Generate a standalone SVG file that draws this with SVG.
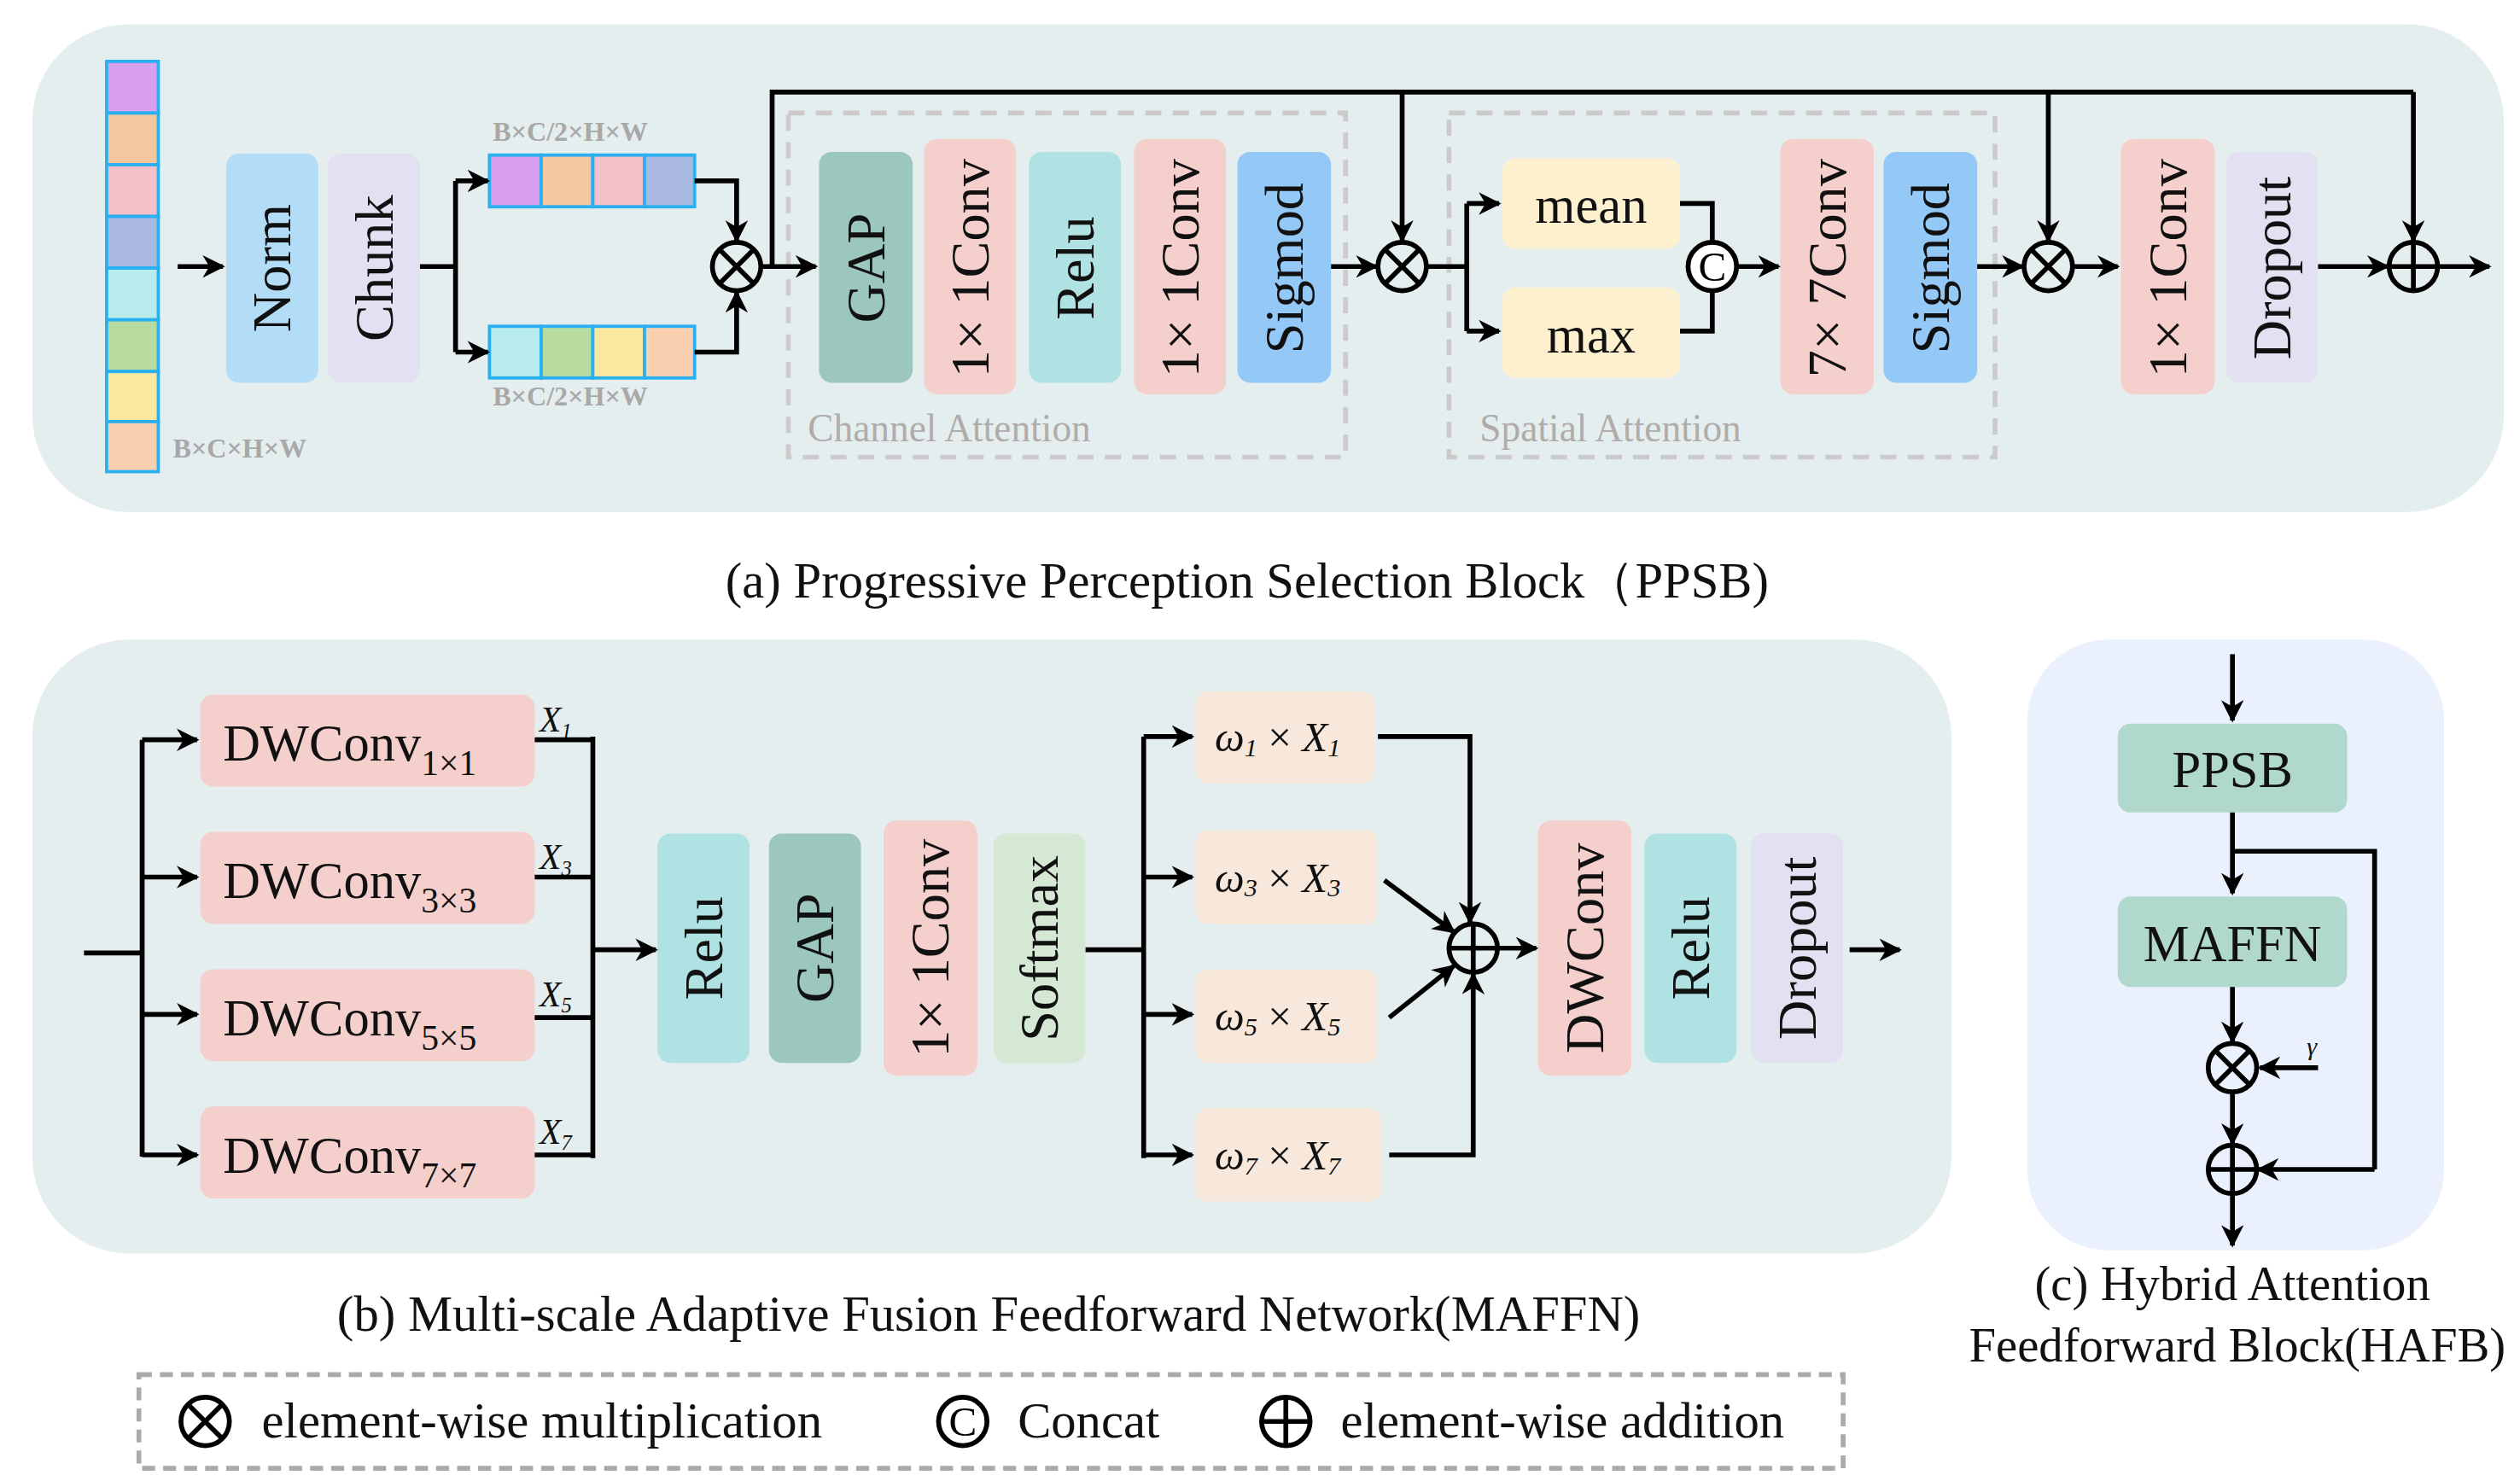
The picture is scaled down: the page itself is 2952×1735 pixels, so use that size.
<svg xmlns="http://www.w3.org/2000/svg" xmlns:xlink="http://www.w3.org/1999/xlink" width="2952" height="1735" viewBox="0 0 2952 1735">
<style>
.t{font-family:"Liberation Serif","Times New Roman",serif;fill:#111}
.v{font-family:"Liberation Serif","Times New Roman",serif;font-size:34px;fill:#111;text-anchor:middle;dominant-baseline:central}
.dim{font-family:"Liberation Serif",serif;font-size:17px;font-weight:bold;fill:#a8a8a8}
.gl{font-family:"Liberation Serif",serif;font-size:24px;fill:#b0acaa}
.c{fill:none;stroke:#000;stroke-width:3}
.ca{fill:none;stroke:#000;stroke-width:3;marker-end:url(#ah)}
.cell{stroke:#2ab0f0;stroke-width:2}
</style>
<defs>
<marker id="ah" viewBox="0 0 10 10" refX="9" refY="5" markerWidth="14" markerHeight="14" markerUnits="userSpaceOnUse" orient="auto">
<path d="M0,0 L10,5 L0,10 L3,5 z" fill="#000"/>
</marker>
<g id="mul"><circle r="15" fill="none" stroke="#000" stroke-width="3"/><path d="M-10.6,-10.6 L10.6,10.6 M10.6,-10.6 L-10.6,10.6" stroke="#000" stroke-width="3"/></g>
<g id="add"><circle r="15" fill="none" stroke="#000" stroke-width="3"/><path d="M-15,0 H15 M0,-15 V15" stroke="#000" stroke-width="3"/></g>
<g id="cat"><circle r="15" fill="#fff" stroke="#000" stroke-width="3"/><text y="9" text-anchor="middle" font-family="Liberation Serif,serif" font-size="26" fill="#000">C</text></g>
</defs>
<rect width="2952" height="1735" fill="#fff"/>
<g transform="scale(1.8923)">
<g id="panelA"><rect x="20" y="15" width="1530" height="302" rx="60" fill="#e5eeef"/></g>
<g id="panelB"><rect x="20" y="396" width="1188" height="380" rx="60" fill="#e5eeef"/></g>
<g id="panelC"><rect x="1255" y="396" width="258" height="378" rx="50" fill="#eaf1fd"/></g>

<g id="input">
<rect class="cell" x="66" y="38" width="32" height="32" fill="#d9a0f0"/>
<rect class="cell" x="66" y="70" width="32" height="32" fill="#f5c7a0"/>
<rect class="cell" x="66" y="102" width="32" height="32" fill="#f5c0c8"/>
<rect class="cell" x="66" y="134" width="32" height="32" fill="#a8b8e0"/>
<rect class="cell" x="66" y="166" width="32" height="32" fill="#b8ecec"/>
<rect class="cell" x="66" y="198" width="32" height="32" fill="#b8dca0"/>
<rect class="cell" x="66" y="230" width="32" height="31" fill="#fbe8a0"/>
<rect class="cell" x="66" y="261" width="32" height="31" fill="#f8d0b0"/>
<text class="dim" x="107" y="283">B×C×H×W</text>
</g>
<g id="norm"><rect x="140" y="95" width="57" height="142" rx="8" fill="#b3dcf7"/><text class="v" transform="translate(168.5,166) rotate(-90)">Norm</text></g>
<g id="chunk"><rect x="203" y="95" width="57" height="142" rx="8" fill="#e3e0f2"/><text class="v" transform="translate(231.5,166) rotate(-90)">Chunk</text></g>
<g id="half1">
<rect class="cell" x="303" y="96" width="32" height="32" fill="#d9a0f0"/>
<rect class="cell" x="335" y="96" width="32" height="32" fill="#f5c7a0"/>
<rect class="cell" x="367" y="96" width="32" height="32" fill="#f5c0c8"/>
<rect class="cell" x="399" y="96" width="31" height="32" fill="#a8b8e0"/>
<text class="dim" x="305" y="87">B×C/2×H×W</text>
</g>
<g id="half2">
<rect class="cell" x="303" y="202" width="32" height="32" fill="#b8ecec"/>
<rect class="cell" x="335" y="202" width="32" height="32" fill="#b8dca0"/>
<rect class="cell" x="367" y="202" width="32" height="32" fill="#fbe8a0"/>
<rect class="cell" x="399" y="202" width="31" height="32" fill="#f8d0b0"/>
<text class="dim" x="305" y="251">B×C/2×H×W</text>
</g>
<g id="mul1"><use xlink:href="#mul" x="456" y="165"/></g>
<g id="channelAttention">
<rect x="488" y="70" width="345" height="213" fill="none" stroke="#cccaca" stroke-width="3" stroke-dasharray="10,7"/>
<text class="gl" x="500" y="273">Channel Attention</text>
</g>
<g id="gap1"><rect x="507" y="94" width="58" height="143" rx="8" fill="#9cc7be"/><text class="v" transform="translate(536,166) rotate(-90)">GAP</text></g>
<g id="conv1a"><rect x="572" y="86" width="57" height="158" rx="8" fill="#f5cfcc"/><text class="v" transform="translate(600.5,166) rotate(-90)">1× 1Conv</text></g>
<g id="relu1"><rect x="637" y="94" width="57" height="143" rx="8" fill="#b0e2e3"/><text class="v" transform="translate(665.5,166) rotate(-90)">Relu</text></g>
<g id="conv1b"><rect x="702" y="86" width="57" height="158" rx="8" fill="#f5cfcc"/><text class="v" transform="translate(730.5,166) rotate(-90)">1× 1Conv</text></g>
<g id="sig1"><rect x="766" y="94" width="58" height="143" rx="8" fill="#94c8f6"/><text class="v" transform="translate(795,166) rotate(-90)">Sigmod</text></g>
<g id="mul2"><use xlink:href="#mul" x="868" y="165"/></g>
<g id="spatialAttention">
<rect x="897" y="70" width="338" height="213" fill="none" stroke="#cccaca" stroke-width="3" stroke-dasharray="10,7"/>
<text class="gl" x="916" y="273">Spatial Attention</text>
</g>
<g id="mean"><rect x="930" y="98" width="110" height="56" rx="8" fill="#fdf0cf"/><text class="t" x="985" y="138" font-size="32" text-anchor="middle">mean</text></g>
<g id="max"><rect x="930" y="178" width="110" height="56" rx="8" fill="#fdf0cf"/><text class="t" x="985" y="218" font-size="32" text-anchor="middle">max</text></g>
<g id="concat"><use xlink:href="#cat" x="1060" y="165"/></g>
<g id="conv7"><rect x="1102" y="86" width="58" height="158" rx="8" fill="#f5cfcc"/><text class="v" transform="translate(1131,166) rotate(-90)">7× 7Conv</text></g>
<g id="sig2"><rect x="1166" y="94" width="58" height="143" rx="8" fill="#94c8f6"/><text class="v" transform="translate(1195,166) rotate(-90)">Sigmod</text></g>
<g id="mul3"><use xlink:href="#mul" x="1268" y="165"/></g>
<g id="conv1c"><rect x="1313" y="86" width="58" height="158" rx="8" fill="#f5cfcc"/><text class="v" transform="translate(1342,166) rotate(-90)">1× 1Conv</text></g>
<g id="drop1"><rect x="1378" y="94" width="57" height="143" rx="8" fill="#e3e0f2"/><text class="v" transform="translate(1406.5,166) rotate(-90)">Dropout</text></g>
<g id="add1"><use xlink:href="#add" x="1494" y="165"/></g>
<text class="t" x="772" y="370" font-size="31" text-anchor="middle">(a) Progressive Perception Selection Block（PPSB)</text>

<g id="dw1"><rect x="124" y="430" width="207" height="57" rx="8" fill="#f5cfcc"/><text class="t" x="138" y="471" font-size="32">DWConv<tspan font-size="22" dy="9">1×1</tspan></text></g>
<g id="dw3"><rect x="124" y="515" width="207" height="57" rx="8" fill="#f5cfcc"/><text class="t" x="138" y="556" font-size="32">DWConv<tspan font-size="22" dy="9">3×3</tspan></text></g>
<g id="dw5"><rect x="124" y="600" width="207" height="57" rx="8" fill="#f5cfcc"/><text class="t" x="138" y="641" font-size="32">DWConv<tspan font-size="22" dy="9">5×5</tspan></text></g>
<g id="dw7"><rect x="124" y="685" width="207" height="57" rx="8" fill="#f5cfcc"/><text class="t" x="138" y="726" font-size="32">DWConv<tspan font-size="22" dy="9">7×7</tspan></text></g>
<g class="t" font-size="22" font-style="italic">
<text x="334" y="453">X<tspan font-size="13" dy="4">1</tspan></text>
<text x="334" y="538">X<tspan font-size="13" dy="4">3</tspan></text>
<text x="334" y="623">X<tspan font-size="13" dy="4">5</tspan></text>
<text x="334" y="708">X<tspan font-size="13" dy="4">7</tspan></text>
</g>
<g id="relu2"><rect x="407" y="516" width="57" height="142" rx="8" fill="#b0e2e3"/><text class="v" transform="translate(435.5,587) rotate(-90)">Relu</text></g>
<g id="gap2"><rect x="476" y="516" width="57" height="142" rx="8" fill="#9cc7be"/><text class="v" transform="translate(504.5,587) rotate(-90)">GAP</text></g>
<g id="conv1d"><rect x="547" y="508" width="58" height="158" rx="8" fill="#f5cfcc"/><text class="v" transform="translate(576,587) rotate(-90)">1× 1Conv</text></g>
<g id="softmax"><rect x="615" y="516" width="57" height="142" rx="8" fill="#d5e8d4"/><text class="v" transform="translate(643.5,587) rotate(-90)">Softmax</text></g>
<g id="w1"><rect x="740" y="428" width="111" height="57" rx="8" fill="#f8e8dc"/><text class="t" x="752" y="465" font-size="26"><tspan font-style="italic">ω</tspan><tspan font-style="italic" font-size="16" dy="3">1</tspan><tspan dy="-3"> × </tspan><tspan font-style="italic">X</tspan><tspan font-style="italic" font-size="16" dy="3">1</tspan></text></g>
<g id="w3"><rect x="740" y="514" width="113" height="58" rx="8" fill="#f8e8dc"/><text class="t" x="752" y="552" font-size="26"><tspan font-style="italic">ω</tspan><tspan font-style="italic" font-size="16" dy="3">3</tspan><tspan dy="-3"> × </tspan><tspan font-style="italic">X</tspan><tspan font-style="italic" font-size="16" dy="3">3</tspan></text></g>
<g id="w5"><rect x="740" y="600" width="113" height="58" rx="8" fill="#f8e8dc"/><text class="t" x="752" y="638" font-size="26"><tspan font-style="italic">ω</tspan><tspan font-style="italic" font-size="16" dy="3">5</tspan><tspan dy="-3"> × </tspan><tspan font-style="italic">X</tspan><tspan font-style="italic" font-size="16" dy="3">5</tspan></text></g>
<g id="w7"><rect x="740" y="686" width="115" height="58" rx="8" fill="#f8e8dc"/><text class="t" x="752" y="724" font-size="26"><tspan font-style="italic">ω</tspan><tspan font-style="italic" font-size="16" dy="3">7</tspan><tspan dy="-3"> × </tspan><tspan font-style="italic">X</tspan><tspan font-style="italic" font-size="16" dy="3">7</tspan></text></g>
<g id="add2"><use xlink:href="#add" x="912" y="587"/></g>
<g id="dwconv"><rect x="952" y="508" width="58" height="158" rx="8" fill="#f5cfcc"/><text class="v" transform="translate(981,587) rotate(-90)">DWConv</text></g>
<g id="relu3"><rect x="1018" y="516" width="57" height="142" rx="8" fill="#b0e2e3"/><text class="v" transform="translate(1046.5,587) rotate(-90)">Relu</text></g>
<g id="drop2"><rect x="1084" y="516" width="57" height="142" rx="8" fill="#e3e0f2"/><text class="v" transform="translate(1112.5,587) rotate(-90)">Dropout</text></g>
<text class="t" x="612" y="824" font-size="31" text-anchor="middle">(b) Multi-scale Adaptive Fusion Feedforward Network(MAFFN)</text>

<g id="ppsb"><rect x="1311" y="448" width="142" height="55" rx="8" fill="#b0d8cc"/><text class="t" x="1382" y="487" font-size="32" text-anchor="middle">PPSB</text></g>
<g id="maffn"><rect x="1311" y="555" width="142" height="56" rx="8" fill="#b0d8cc"/><text class="t" x="1382" y="595" font-size="32" text-anchor="middle">MAFFN</text></g>
<g id="mul4"><use xlink:href="#mul" x="1382" y="661"/></g>
<g id="add3"><use xlink:href="#add" x="1382" y="724"/></g>
<text class="t" x="1428" y="653" font-size="16" font-style="italic">γ</text>
<text class="t" x="1382" y="805" font-size="30" text-anchor="middle">(c) Hybrid Attention</text>
<text class="t" x="1385" y="843" font-size="30" text-anchor="middle">Feedforward Block(HAFB)</text>

<g id="legend">
<rect x="86" y="851" width="1055" height="58" fill="none" stroke="#aaa" stroke-width="3" stroke-dasharray="8,5"/>
<use xlink:href="#mul" x="127" y="880"/>
<text class="t" x="162" y="890" font-size="31">element-wise multiplication</text>
<use xlink:href="#cat" x="596" y="880"/>
<text class="t" x="630" y="890" font-size="31">Concat</text>
<use xlink:href="#add" x="796" y="880"/>
<text class="t" x="830" y="890" font-size="31">element-wise addition</text>
</g>

<g id="connectors">
<path class="ca" d="M110,165 H138"/>
<path class="c" d="M260,165 H282 M282,112 V218"/>
<path class="ca" d="M282,112 H302"/>
<path class="ca" d="M282,218 H302"/>
<path class="ca" d="M430,112 H456 V149"/>
<path class="ca" d="M430,218 H456 V181"/>
<path class="ca" d="M471,165 H505"/>
<path class="c" d="M478,165 V57 H1494"/>
<path class="ca" d="M868,57 V149"/>
<path class="ca" d="M1268,57 V149"/>
<path class="ca" d="M1494,57 V149"/>
<path class="ca" d="M824,165 H852"/>
<path class="c" d="M883,165 H908 M908,126 V205"/>
<path class="ca" d="M908,126 H928"/>
<path class="ca" d="M908,205 H928"/>
<path class="c" d="M1040,126 H1060 V150 M1040,205 H1060 V180"/>
<path class="ca" d="M1075,165 H1101"/>
<path class="ca" d="M1224,165 H1252"/>
<path class="ca" d="M1283,165 H1311"/>
<path class="ca" d="M1435,165 H1478"/>
<path class="ca" d="M1509,165 H1541"/>
<path class="c" d="M52,590 H88 M88,458 V716"/>
<path class="ca" d="M88,458 H122"/>
<path class="ca" d="M88,543 H122"/>
<path class="ca" d="M88,628 H122"/>
<path class="ca" d="M88,715 H122"/>
<path class="c" d="M331,458 H367 M331,543 H367 M331,630 H367 M331,715 H367 M367,456 V717"/>
<path class="ca" d="M367,588 H406"/>
<path class="c" d="M672,588 H708 M708,456 V717"/>
<path class="ca" d="M708,456 H738"/>
<path class="ca" d="M708,543 H738"/>
<path class="ca" d="M708,628 H738"/>
<path class="ca" d="M708,715 H738"/>
<path class="ca" d="M853,456 H910 V571"/>
<path class="ca" d="M857,545 L900,577"/>
<path class="ca" d="M860,630 L900,598"/>
<path class="ca" d="M860,715 H912 V603"/>
<path class="ca" d="M927,587 H951"/>
<path class="ca" d="M1145,588 H1176"/>
<path class="ca" d="M1382,405 V446"/>
<path class="ca" d="M1382,503 V553"/>
<path class="c" d="M1382,527 H1470 V724"/>
<path class="ca" d="M1470,724 H1398"/>
<path class="ca" d="M1382,611 V645"/>
<path class="ca" d="M1435,661 H1399"/>
<path class="ca" d="M1382,676 V708"/>
<path class="ca" d="M1382,739 V771"/>
</g>
</g>
</svg>
